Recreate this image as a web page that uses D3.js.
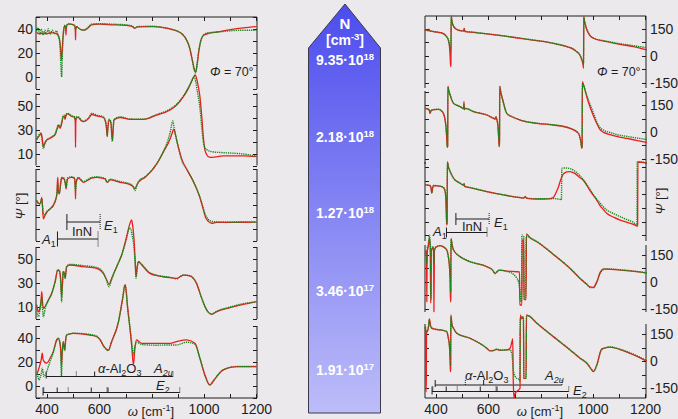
<!DOCTYPE html>
<html>
<head>
<meta charset="utf-8">
<script src="https://cdn.jsdelivr.net/npm/d3@7/dist/d3.min.js"></script>
<style>
  body { margin: 0; background: #ebe9ec; }
  svg { display: block; font-family: "Liberation Sans", Arial, sans-serif; }
</style>
</head>
<body>
<svg width="678" height="419"></svg>
<script>
// ---- Psi spectra [omega (cm-1), Psi (deg)], fit = red, exp = green ----
const psiFit1 = [[360,37],[372,36],[385,36.5],[400,36],[415,37],[430,36.5],[442,35],[449,30],[454,18],[456,14],[459,26],[463,38],[468,43],[471,41],[472.5,35],[474,42],[480,44],[490,44],[505,43],[508,39],[509,31],[510,39],[512,42],[525,40],[540,39],[555,40.5],[570,43.5],[600,44],[650,43.5],[700,43],[725,42.2],[735,40.5],[745,41.8],[800,42],[850,41],[880,39.5],[900,38],[920,35],[935,30],[945,24],[955,14],[962,7],[968,4],[973,10],[980,22],[990,32],[1000,35],[1020,36.5],[1050,37.5],[1100,39.5],[1150,41],[1200,42]];
const psiExp1 = [[360,38],[366,41],[372,36],[378,40],[385,35],[392,39],[398,36],[405,40],[412,35.5],[420,39],[428,36],[436,38.5],[442,35],[449,28],[453,10],[456,0],[459,22],[463,37],[468,43],[472.5,40],[476,43],[480,44.5],[490,44],[505,43],[509,40],[512,42],[525,40],[540,39],[555,41],[570,44],[600,44.5],[650,44],[700,43.5],[725,42.5],[735,41],[745,42],[800,42.3],[850,41],[880,39.5],[900,38],[920,35],[935,30],[945,24],[955,14],[962,6],[967,3.5],[973,10],[980,22],[990,32],[1000,35.5],[1020,37],[1050,37.5],[1100,38.5],[1150,39],[1200,39]];

const psiFit2 = [[360,21.3],[368,24],[373,25.4],[378,27],[382,22],[386,15.7],[392,19],[399,21.3],[412,22.7],[425,24.5],[432,26],[438,30],[443,32.4],[447,33],[450,31],[456,35],[462,40.7],[466,41],[469,38.5],[473,42],[478,43],[494,41],[505,40],[508,36],[509,15],[510,36],[512,40],[520,40],[530,37.5],[539,36.5],[550,37.5],[560,39.5],[571,42.5],[590,41.3],[615,40],[624,36],[628,29],[630,24],[632,30],[637,38],[642,37],[645,34],[648,24],[650,21.3],[652,28],[656,38],[679,40],[717,38.5],[768,38.5],[819,42],[870,46.3],[895,50.4],[921,57.4],[940,64.3],[952,70],[961,74],[966,75.4],[974,70],[984,57.4],[991,40.7],[997,24],[1003,13],[1010,9],[1020,7],[1030,6.8],[1073,8],[1150,8],[1200,7.4]];
const psiExp2 = [[360,22],[368,25],[373,27],[378,26],[382,20],[386,14],[392,18],[399,21],[412,23],[425,25],[432,27],[438,31],[443,34],[447,33],[450,32],[456,36],[462,41.5],[466,42],[469,39],[473,42.5],[478,43.5],[494,41.5],[505,40.5],[509,38],[512,40.5],[520,40.5],[530,38],[539,37],[550,38],[560,40],[571,43.5],[590,42],[615,40.5],[624,36.5],[628,31],[630,25],[632,31],[637,38.5],[642,37.5],[645,34],[648,22],[650,20],[652,28],[656,38.5],[679,40.5],[717,38.8],[768,38.5],[819,42.5],[870,47],[895,51],[921,58],[940,65],[952,70],[958,73],[962,74],[966,72],[974,62],[984,48],[991,32],[997,20],[1003,15],[1012,13],[1030,11.5],[1073,10.7],[1150,9.6],[1200,7.8]];

const psiFit3 = [[360,33.6],[368,31.5],[373,30.9],[378,34],[380,36.4],[383,28],[386,18.4],[392,21],[399,23.9],[412,26.7],[424,29.5],[434,35],[438,40],[440,50],[441.5,53],[443,42],[447,39.2],[452,47],[456,52.5],[465,51.7],[470,48],[473,43.4],[476,49],[478,51.7],[494,53],[505,52],[508,44],[509,35],[510,46],[514,51],[520,52.5],[539,48.9],[558,50.9],[571,52.5],[590,53],[622,51.7],[630,48.9],[641,50.9],[679,48.9],[717,47],[730,45],[736,43.4],[742,46],[749,48.9],[774,53],[800,58.6],[819,64.2],[844,74],[870,85],[878,90],[884,93.3],[890,89],[902,78],[915,68],[933,60],[958,50],[983,37],[996,27],[1005,20],[1016,16.4],[1029,14.8],[1048,15.6],[1100,15.6],[1200,15.8]];
const psiExp3 = [[360,34],[368,31],[373,31],[380,35],[386,22.5],[392,22],[399,24.5],[412,27],[424,30],[434,35.5],[438,39],[441.5,48],[443,41],[447,40],[452,48],[456,53],[465,52.5],[470,48],[473,44.5],[478,52.5],[494,53.5],[505,52.5],[509,42],[512,50],[520,53],[539,49.5],[558,51.5],[571,53],[590,53.5],[622,52],[630,49],[641,51.5],[679,49.5],[717,47.5],[730,45],[736,42],[742,45.5],[749,49.5],[774,53.5],[800,59],[819,64.5],[844,74.5],[862,84],[872,92],[880,100],[886,94],[895,84],[906,74],[915,67],[933,60],[958,50],[983,37],[996,28],[1005,22],[1016,18],[1029,16.4],[1048,16],[1100,15.8],[1200,15.8]];

const psiFit4 = [[360,11.6],[364,8],[367,6.1],[372,8],[377,15],[380,22.7],[383,14],[386,8.9],[393,10.3],[405,15.8],[418,21.4],[431,31.1],[441,40.8],[447,40],[452,34],[456,18.6],[459,30],[462,39.4],[466,38],[469,33.9],[473,40],[475,43.6],[488,45],[539,43.6],[590,42.2],[615,38],[628,32.5],[637,28.9],[647,33.9],[666,43.6],[685,53.3],[704,68.6],[717,79.7],[723,82.5],[727,78],[732,67.2],[737,48],[740,35.2],[744,42],[749,47.8],[762,45],[793,38],[844,35.2],[870,34.4],[895,33.9],[921,36.6],[946,36],[971,29.7],[991,17.2],[1010,7.5],[1029,3.9],[1048,6.1],[1099,9.4],[1150,12.2],[1200,14.4]];
const psiExp4 = [[360,12],[363,4],[367,1.9],[371,5],[376,12],[380,17.2],[383,8],[386,1.9],[390,5],[393,9],[405,15],[418,21],[431,31],[441,41],[447,40.5],[452,32],[456,14.4],[459,28],[462,39.6],[466,38.5],[469,34],[473,40.5],[475,44],[488,45.5],[539,44.5],[590,43],[615,38.5],[628,32],[637,26.9],[647,33],[666,43.5],[685,53],[704,67],[715,76],[720,75],[725,70],[732,60],[737,45],[740,34],[744,42],[749,48],[762,45.5],[793,38.5],[844,35.5],[870,34.8],[895,33.5],[921,36.8],[946,36],[971,29.7],[991,17.2],[1010,7.5],[1029,4.2],[1048,6.5],[1099,10],[1150,12.8],[1200,14.4]];

const psiFit5 = [[360,9.2],[368,14],[373,17.6],[378,22],[382,27.3],[385,22],[389,20.4],[399,19],[412,23.1],[424,28.6],[437,38.4],[443,39.8],[450,35.6],[453,28],[455,17.6],[458,28],[462,37],[468,30],[471,38],[475,42.5],[501,43.9],[564,42.5],[590,41.1],[603,38.4],[618,32.8],[634,30],[647,37],[673,53.6],[689,73],[698,84.2],[702,80],[707,67.5],[717,48],[724,32],[730,17.6],[736,32],[742,38.4],[762,35.6],[819,35.6],[870,35.6],[895,37],[933,38.4],[965,35.6],[984,23.1],[1003,9.2],[1022,0.9],[1035,4],[1048,7.8],[1073,13.4],[1124,16.2],[1200,16.2]];
const psiExp5 = [[360,10],[365,8],[370,5],[373,6.4],[378,10],[382,14.8],[386,10],[389,7.8],[395,10],[399,12],[405,16],[412,20.4],[424,28],[437,38],[443,39.5],[450,35],[453,24],[455,7.8],[458,24],[462,36.5],[468,29.5],[471,37.5],[475,42.5],[501,44],[564,43],[590,41.5],[603,38.5],[618,32.5],[634,29.5],[647,37],[673,53.5],[689,73],[698,84.5],[702,80],[707,67],[717,48],[724,36],[730,25.9],[736,33],[742,36.5],[762,34.5],[819,34],[870,34.2],[895,34.2],[933,36.5],[965,34.8],[984,23],[1003,9],[1022,0.9],[1035,4.2],[1048,8],[1073,13.5],[1124,16.2],[1200,16.2]];

// ---- Delta spectra [omega (cm-1), Delta (deg)] ----
const deltaFit1 = [[358,144.5],[375,140],[390,135],[405,132],[416,129.7],[428,124],[435,116.7],[442,104],[447,89],[451,60],[454,0],[456,-59],[457,-40],[458,222],[460,205],[463,181.5],[467,165],[473,153.7],[482,145],[492,140.8],[504,138],[507,148],[508,153],[510,138],[512,135],[543,131.5],[594,122.3],[657,111.2],[721,98.2],[785,85.2],[848,70.4],[899,51.9],[920,41],[937,24.1],[948,8],[957,-22.2],[961,-45],[963.5,-68.5],[964.5,222],[966,205],[969,181.5],[975,150],[982,126],[1001,98.2],[1052,79.7],[1103,64.8],[1154,51.9],[1205,33.4]];
const deltaExp1 = [[358,146],[366,140],[372,148],[380,138],[390,136],[405,133],[416,130],[428,124],[435,117],[442,104],[447,90],[451,65],[454,40],[456,25],[457,50],[458,215],[460,200],[463,180],[467,165],[473,154],[482,146],[492,141],[504,139],[507,150],[508,146],[510,139],[512,136],[543,132],[594,123],[657,112],[721,99],[785,86],[848,71],[899,53],[920,42],[937,25],[948,10],[957,-18],[961,-32],[963.5,-42],[964.5,215],[966,200],[969,182],[975,152],[982,128],[1001,100],[1052,82],[1103,68],[1154,57],[1205,46]];

const deltaFit2 = [[358,131.5],[371,125.9],[375,118],[377,103.7],[380,115],[384,122.2],[409,125.9],[420,118],[428,103.7],[433,80],[438,29.6],[441,-30],[443,-85.2],[444.5,-80],[445.5,255.6],[449,230],[454,205.5],[460,180],[467,159.2],[480,148],[492,140.7],[505,130],[507,168.5],[508,125],[512,131.5],[543,112.9],[594,94.4],[619,75.9],[626,72],[629,85.2],[632,70],[636,40],[639,-20],[641.5,-81.5],[642.5,-60],[643.5,255.6],[647,225],[655,177.8],[670,103.7],[690,85],[721,66.6],[785,48],[848,38.9],[912,20.3],[944,-7.4],[953,-53.7],[957,-90.8],[958,-85],[959,279.6],[963,265],[969,233.3],[978,185],[988,140.7],[1000,95],[1014,48],[1026,15],[1040,-2],[1065,-14],[1090,-24],[1130,-36],[1170,-48],[1205,-58]];
const deltaExp2 = [[358,132],[371,127],[375,120],[377,106],[380,116],[384,123],[409,127],[420,119],[428,105],[433,82],[438,32],[441,-28],[443,-82],[444.5,-75],[445.5,250],[449,228],[454,206],[460,181],[467,160],[480,149],[492,141],[505,131],[507,150],[508,128],[512,132],[543,114],[594,95],[619,77],[626,73],[629,84],[632,71],[636,42],[639,-18],[641.5,-78],[642.5,-55],[643.5,250],[647,225],[655,178],[670,105],[690,86],[721,67],[785,49],[848,40],[912,21],[944,-6],[953,-50],[957,-85],[958,-80],[959,270],[963,262],[969,236],[978,195],[988,155],[1000,110],[1014,55],[1026,25],[1040,10],[1065,-3],[1090,-14],[1130,-25],[1170,-34],[1205,-42]];

const deltaFit3 = [[358,127.8],[377,124],[381,110],[384,81.5],[387,110],[390,124],[422,118.5],[430,110],[435,90.7],[438,40],[441,-94.5],[442.5,-80],[443.5,257],[448,225],[454,201.9],[467,164.8],[492,137],[506,126],[507.5,137],[509,120],[530,113],[594,90.7],[657,72.2],[721,57.4],[735,55],[740,63],[746,53.7],[785,50],[811,50],[835,52],[849,60],[860,90],[868,118],[877,160],[887,190],[900,200],[912,202],[930,192],[950,168],[962,155],[976,125],[990,92],[1001,70],[1014,44],[1027,12],[1040,-10],[1052,-29.6],[1080,-52],[1103,-66.7],[1130,-80],[1154,-90.8],[1169,-100],[1170,-95],[1171,255],[1205,250]];
const deltaExp3 = [[358,128],[377,125],[381,112],[384,84],[387,112],[390,125],[422,119],[430,111],[435,92],[438,45],[441,-90],[442.5,-75],[443.5,250],[448,224],[454,202],[467,165],[492,138],[506,127],[507.5,134],[509,121],[530,114],[594,91],[657,73],[721,58],[735,56],[740,64],[746,55],[785,51],[811,51],[835,51],[849,52],[865,50],[875,47],[879,46],[880.5,220],[895,222],[912,218],[930,205],[950,178],[976,130],[1001,74],[1027,26],[1052,-11],[1080,-32],[1103,-48],[1130,-65],[1154,-80],[1166,-94.5],[1167.5,-90],[1168.5,255],[1205,250]];

const deltaFit4 = [[358,165.7],[362,170],[364,160],[365,-112],[366,160],[370,190],[374,230],[376,240],[378,180],[380,-120],[382,170],[388,185],[391,180],[392,-167],[394,170],[400,190],[416,199],[430,190],[441,175],[447,140],[451,91.6],[454,0],[455.5,-112],[456.5,-100],[457.5,239.8],[462,200],[467,175],[492,137.9],[530,110],[594,82.4],[615,65],[626,45.3],[635,58],[642,63.8],[670,58.3],[708,54.6],[719,54],[720,-130],[728,-130],[729,230],[735,230],[736,-100],[744,-100],[745.5,265],[760,242],[785,221.3],[848,150.9],[912,73],[950,17.5],[976,-15.8],[988,-30],[1001,-32],[1014,-1],[1027,50.9],[1040,70],[1052,69.4],[1103,63.8],[1166,54.6],[1205,47]];
const deltaExp4 = [[358,160],[361,150],[363,130],[365,100],[367,190],[370,200],[373,240],[375,258],[377,230],[379,190],[381,-100],[383,180],[390,195],[392,100],[394,185],[416,199],[441,176],[447,140],[451,92],[454,20],[456,-60],[457.5,235],[462,200],[467,176],[492,139],[530,111],[594,83],[615,66],[626,44],[635,57],[642,63],[670,57],[696,40],[708,20],[715,-1],[721,-56.6],[725,-112],[726.5,-100],[728,258],[735,250],[736.5,-95],[742,-90],[744,250],[750,250],[760,243],[785,222],[848,152],[912,74],[950,18],[976,-14],[988,-33],[1001,-34],[1014,-5],[1027,45],[1040,66],[1052,70],[1103,66],[1166,56],[1205,49]];

const deltaFit5 = [[358,193.5],[360,190],[361,-100],[362,-167.7],[363,-100],[364,170],[367,165.7],[372,200],[375,236],[380,193.5],[390,180.5],[416,175],[441,165.7],[447,130],[451,91.6],[454,0],[455,-56.6],[456,-40],[456.8,258],[461,202.7],[467,184.2],[479,156.5],[530,128.7],[594,73.1],[606,58.3],[620,60],[632,67.6],[645,62],[670,63.8],[683,73.1],[690,110],[693,125],[695,-100],[698,-204.7],[700,-186],[708,-167.7],[721,-149],[722,258.3],[727,236],[734,249],[735.5,-93.7],[744,-93.7],[745.5,258],[753,254.5],[785,212],[848,137.9],[912,63.8],[950,17.5],[976,-10.3],[995,-47.4],[1001,-56.6],[1014,-19.6],[1033,70],[1065,80],[1103,66],[1166,30],[1205,2]];
const deltaExp5 = [[358,190],[361,170],[363,160],[366,168],[370,180],[374,230],[376,220],[380,190],[390,181],[416,175],[441,166],[447,130],[451,92],[454,30],[455.5,-20],[456.8,250],[461,205],[467,185],[479,157],[530,129],[594,74],[606,60],[620,62],[632,69],[645,64],[670,64],[683,65],[690,40],[696,-56.6],[708,-93.7],[718,-100],[720,-110],[721.5,240],[727,248],[734,242],[735.5,-93],[744,-93],[745.5,250],[753,252],[785,213],[848,139],[912,65],[950,19],[976,-9],[995,-46],[1001,-55],[1014,-22],[1033,66],[1065,81],[1103,68],[1166,32],[1205,4]];

// ---- axes and labels ----
const omegaTicks = [400, 500, 600, 700, 800, 900, 1000, 1100, 1200];
const omegaLabels = [400, 600, 1000, 1200];
const psiTickLabels = [[0, 20, 40], [10, 30, 50], [], [10, 30, 50], [0, 20, 40]];
const deltaTickLabels = [[-150, 0, 150], [-150, 0, 150], [], [-150, 0, 150], [-150, 0, 150]];

// free carrier density per row
const densityMant = ["9.35", "2.18", "1.27", "3.46", "1.91"];
const densityExp = ["18", "18", "18", "17", "17"];

// phonon modes (cm-1)
const innA1 = [440, 595];
const innE1 = [476, 603];
const a2uTO = [397, 582];
const a2uLO = [512, 881];
const euTO = [385, 439, 569, 633];
const euLO = [388, 481, 629, 907];

// ---- layout ----
const psiDomains = [[-10, 50], [0, 60], [0, 60], [0, 60], [-10, 50]];
const psiRanges = [[89, 17], [165.5, 93.5], [241, 169], [319, 247], [398, 326]];
const deltaDomains = [[-178, 222], [-178, 228], [-183, 255], [-169, 203], [-203, 208]];
const deltaRanges = [[88, 16], [164, 91], [241, 162], [312, 245], [398, 324]];

const svg = d3.select("svg");
const ink = "#1e1e1e";
const red = "#ee1d1d";
const green = "#17891a";

const xL = d3.scaleLinear().domain([358, 1202]).range([36, 257]);
const xR = d3.scaleLinear().domain([358, 1202]).range([425, 646]);

// center arrow with gradient
const defs = svg.append("defs");
const grad = defs.append("linearGradient").attr("id", "ngrad")
  .attr("x1", 0).attr("y1", 0).attr("x2", 0).attr("y2", 1);
grad.append("stop").attr("offset", "0%").attr("stop-color", "#4c4cee");
grad.append("stop").attr("offset", "100%").attr("stop-color", "#bdbdf9");

svg.append("path")
  .attr("d", "M345,4 L380.5,48 L380.5,413 L308.5,413 L308.5,48 Z")
  .attr("fill", "url(#ngrad)")
  .attr("stroke", "#3a3a4a")
  .attr("stroke-width", 1);

const arrowText = svg.append("g").attr("fill", "#fff").attr("font-weight", "bold")
  .attr("text-anchor", "middle").attr("font-size", 14);
arrowText.append("text").attr("x", 345).attr("y", 29).attr("font-size", 15).text("N");
const cmText = arrowText.append("text").attr("x", 345).attr("y", 45);
cmText.append("tspan").text("[cm");
cmText.append("tspan").attr("dy", -5).attr("font-size", 9.5).text("-3");
cmText.append("tspan").attr("dy", 5).text("]");
const densityY = [65, 142, 218, 296, 375];
densityMant.forEach((m, i) => {
  const t = arrowText.append("text").attr("x", 345).attr("y", densityY[i]);
  t.append("tspan").text(m + "\u00b710");
  t.append("tspan").attr("dy", -5).attr("font-size", 9.5).text(densityExp[i]);
});

// panel frames
function frame(x, y, ticks, labels, side) {
  const g = svg.append("g").attr("stroke", ink).attr("stroke-width", 1);
  const [x0, x1] = x.range();
  const [yb, yt] = y.range();
  g.append("line").attr("x1", x0).attr("x2", x0).attr("y1", yb).attr("y2", yt);
  g.append("line").attr("x1", x1).attr("x2", x1).attr("y1", yb).attr("y2", yt);
  ticks.forEach(t => {
    const yy = Math.round(y(t)) + 0.5;
    g.append("line").attr("x1", x0).attr("x2", x0 + 4).attr("y1", yy).attr("y2", yy);
    g.append("line").attr("x1", x1 - 4).attr("x2", x1).attr("y1", yy).attr("y2", yy);
  });
  labels.forEach(t => {
    svg.append("text")
      .attr("x", side === "left" ? x0 - 3 : x1 + 4)
      .attr("y", y(t)).attr("dy", "0.36em")
      .attr("text-anchor", side === "left" ? "end" : "start")
      .attr("font-size", 14).attr("fill", ink)
      .text(t);
  });
}

const psiScales = psiDomains.map((d, i) => d3.scaleLinear().domain(d).range(psiRanges[i]));
const deltaScales = deltaDomains.map((d, i) => d3.scaleLinear().domain(d).range(deltaRanges[i]));

psiScales.forEach((y, i) => {
  const d = y.domain();
  frame(xL, y, d3.range(d[0], d[1] + 0.1, 10), psiTickLabels[i], "left");
});
deltaScales.forEach((y, i) => {
  const d = y.domain();
  const ticks = d3.range(-150, 226, 75).filter(t => t >= d[0] && t <= d[1]);
  frame(xR, y, ticks, deltaTickLabels[i], "right");
});

// x axes (top and bottom)
function xAxis(x, yTop, yBot, cx) {
  const g = svg.append("g").attr("stroke", ink).attr("stroke-width", 1);
  const [x0, x1] = x.range();
  g.append("line").attr("x1", x0).attr("x2", x1).attr("y1", yBot).attr("y2", yBot);
  g.append("line").attr("x1", x0).attr("x2", x1).attr("y1", yTop).attr("y2", yTop);
  omegaTicks.forEach(t => {
    const xx = Math.round(x(t)) + 0.5;
    g.append("line").attr("x1", xx).attr("x2", xx).attr("y1", yBot).attr("y2", yBot - 4);
    g.append("line").attr("x1", xx).attr("x2", xx).attr("y1", yTop).attr("y2", yTop + 4);
  });
  omegaLabels.forEach(t => {
    svg.append("text").attr("x", x(t)).attr("y", 414).attr("text-anchor", "middle")
      .attr("font-size", 14).attr("fill", ink).text(t);
  });
  const lab = svg.append("text").attr("x", cx).attr("y", 416).attr("text-anchor", "middle")
    .attr("font-size", 13).attr("fill", ink);
  lab.append("tspan").attr("font-style", "italic").text("\u03c9");
  lab.append("tspan").text(" [cm");
  lab.append("tspan").attr("dy", -5).attr("font-size", 9).text("-1");
  lab.append("tspan").attr("dy", 5).text("]");
}
xAxis(xL, 17, 398, 151);
xAxis(xR, 16, 398, 540);

// y axis titles
function yTitle(x, y, txt) {
  const t = svg.append("text").attr("transform", `translate(${x},${y}) rotate(-90)`)
    .attr("text-anchor", "middle").attr("font-size", 13).attr("fill", ink);
  t.append("tspan").attr("font-style", "italic").text(txt);
  t.append("tspan").text(" [\u00b0]");
}
yTitle(25, 206, "\u03a8");
yTitle(665, 201, "\u03a8");

// angle of incidence
[210, 597].forEach(xx => {
  const t = svg.append("text").attr("x", xx).attr("y", 76).attr("font-size", 12.5).attr("fill", ink);
  t.append("tspan").attr("font-style", "italic").text("\u03a6");
  t.append("tspan").text(" = 70\u00b0");
});

// phonon mode bars
function modeBar(x, y, from, to, h) {
  const g = svg.append("g").attr("stroke", ink).attr("stroke-width", 1);
  g.append("line").attr("x1", x(from)).attr("x2", x(to)).attr("y1", y).attr("y2", y);
  g.append("line").attr("x1", x(from)).attr("x2", x(from)).attr("y1", y - h).attr("y2", y + h);
  g.append("line").attr("x1", x(to)).attr("x2", x(to)).attr("y1", y - h).attr("y2", y + h)
    .attr("stroke-dasharray", "1,1");
}
function subText(x, y, main, sub, italicSub) {
  const t = svg.append("text").attr("x", x).attr("y", y).attr("font-size", 13).attr("fill", ink);
  t.append("tspan").attr("font-style", "italic").text(main);
  t.append("tspan").attr("dy", 3).attr("font-size", 9)
    .attr("font-style", italicSub ? "italic" : "normal").text(sub);
  return t;
}
function sapphire(x, yA, yE) {
  const g = svg.append("g").attr("stroke", ink).attr("stroke-width", 1);
  g.append("line").attr("x1", x(a2uTO[0])).attr("x2", x(a2uLO[1])).attr("y1", yA).attr("y2", yA);
  g.append("line").attr("x1", x(euTO[0])).attr("x2", x(euLO[3])).attr("y1", yE).attr("y2", yE);
  a2uTO.forEach((w, i) => g.append("line").attr("x1", x(w)).attr("x2", x(w))
    .attr("y1", yA - 5).attr("y2", yA + (i === 0 ? 2 : 0)));
  a2uLO.forEach(w => g.append("line").attr("x1", x(w)).attr("x2", x(w))
    .attr("y1", yA - 5).attr("y2", yA).attr("stroke-dasharray", "1,1"));
  euTO.forEach((w, i) => g.append("line").attr("x1", x(w)).attr("x2", x(w))
    .attr("y1", yE - 5).attr("y2", yE + (i === 0 ? 3 : 0)));
  euLO.forEach(w => g.append("line").attr("x1", x(w)).attr("x2", x(w))
    .attr("y1", yE - 5).attr("y2", yE).attr("stroke-dasharray", "1,1"));
}
function al2o3(x, y) {
  const t = svg.append("text").attr("x", x).attr("y", y).attr("font-size", 13).attr("fill", ink);
  t.append("tspan").attr("font-style", "italic").text("\u03b1");
  t.append("tspan").text("-Al");
  t.append("tspan").attr("dy", 3).attr("font-size", 9).text("2");
  t.append("tspan").attr("dy", -3).text("O");
  t.append("tspan").attr("dy", 3).attr("font-size", 9).text("3");
}

// left plot annotations
modeBar(xL, 222, innE1[0], innE1[1], 8);
modeBar(xL, 239, innA1[0], innA1[1], 7.5);
svg.append("text").attr("x", 82).attr("y", 236).attr("text-anchor", "middle")
  .attr("font-size", 13).attr("fill", ink).text("InN");
subText(104, 230, "E", "1", false);
subText(42, 244, "A", "1", false);
sapphire(xL, 376.5, 392.5);
al2o3(98, 373);
subText(154, 373, "A", "2u", true);
subText(156, 390, "E", "2", false);

// right plot annotations
modeBar(xR, 219, innE1[0], innE1[1], 6);
modeBar(xR, 232.5, innA1[0], innA1[1], 5);
svg.append("text").attr("x", 472).attr("y", 231).attr("text-anchor", "middle")
  .attr("font-size", 13).attr("fill", ink).text("InN");
subText(494, 227, "E", "1", false);
subText(433, 236, "A", "1", false);
sapphire(xR, 385, 391.5);
al2o3(465, 380);
subText(545, 380, "A", "2u", true);
subText(573, 395, "E", "2", false);

// spectra
function curve(x, y, data, color, dashed) {
  const line = d3.line().x(d => x(d[0])).y(d => y(d[1])).curve(d3.curveMonotoneX);
  svg.append("path").datum(data).attr("d", line)
    .attr("fill", "none").attr("stroke", color)
    .attr("stroke-width", dashed ? 1.4 : 1.3)
    .attr("stroke-linejoin", "round")
    .attr("stroke-dasharray", dashed ? "1.3,0.9" : null);
}
const psiFits = [psiFit1, psiFit2, psiFit3, psiFit4, psiFit5];
const psiExps = [psiExp1, psiExp2, psiExp3, psiExp4, psiExp5];
const deltaFits = [deltaFit1, deltaFit2, deltaFit3, deltaFit4, deltaFit5];
const deltaExps = [deltaExp1, deltaExp2, deltaExp3, deltaExp4, deltaExp5];

psiScales.forEach((y, i) => curve(xL, y, psiFits[i], red, false));
deltaScales.forEach((y, i) => curve(xR, y, deltaFits[i], red, false));
psiScales.forEach((y, i) => curve(xL, y, psiExps[i], green, true));
deltaScales.forEach((y, i) => curve(xR, y, deltaExps[i], green, true));
</script>
</body>
</html>
